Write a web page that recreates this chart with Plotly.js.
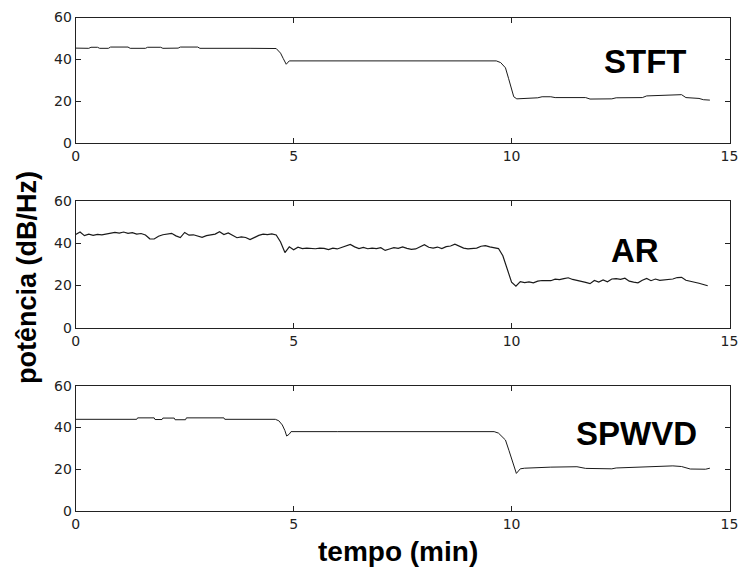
<!DOCTYPE html>
<html>
<head>
<meta charset="utf-8">
<script src="https://cdn.plot.ly/plotly-3.0.1.min.js"></script>
<style>html,body{margin:0;padding:0;background:#fff;}#chart{width:739px;height:572px;}</style>
</head>
<body>
<div id="chart"></div>
<script>
// ---- data ----
var stftTime = [0, 0.3, 0.35, 0.5, 0.55, 0.75, 0.8, 1.2, 1.25, 1.6, 1.65, 1.95, 2.0, 2.35, 2.4, 2.8, 2.85, 3.5, 4.0, 4.6, 4.7, 4.76, 4.83, 4.9, 5.5, 6.3, 7.0, 8.0, 9.0, 9.65, 9.75, 9.86, 9.93, 9.98, 10.05, 10.12, 10.3, 10.6, 10.7, 10.9, 11.0, 11.7, 11.8, 12.3, 12.4, 13.0, 13.1, 13.7, 13.9, 14.0, 14.3, 14.4, 14.55];
var stftPower = [45.4, 45.3, 45.8, 45.8, 45.3, 45.3, 45.9, 45.9, 45.3, 45.3, 45.8, 45.8, 45.3, 45.4, 45.9, 45.9, 45.3, 45.4, 45.3, 45.2, 43.0, 40.5, 37.7, 39.3, 39.3, 39.4, 39.3, 39.3, 39.3, 39.3, 38.5, 36.0, 31.0, 27.0, 22.2, 21.2, 21.4, 21.7, 22.2, 22.2, 21.8, 21.8, 21.1, 21.2, 21.7, 21.8, 22.6, 22.8, 23.2, 21.8, 21.4, 20.8, 20.6];

var arTime = [0.0, 0.1, 0.2, 0.3, 0.4, 0.5, 0.6, 0.7, 0.8, 0.9, 1.0, 1.1, 1.2, 1.3, 1.4, 1.5, 1.6, 1.7, 1.8, 1.9, 2.0, 2.1, 2.2, 2.3, 2.4, 2.5, 2.6, 2.7, 2.8, 2.9, 3.0, 3.1, 3.2, 3.3, 3.4, 3.5, 3.6, 3.7, 3.8, 3.9, 4.0, 4.1, 4.2, 4.3, 4.4, 4.5, 4.6, 4.7, 4.8, 4.9, 5.0, 5.1, 5.2, 5.3, 5.4, 5.5, 5.6, 5.7, 5.8, 5.9, 6.0, 6.1, 6.2, 6.3, 6.4, 6.5, 6.6, 6.7, 6.8, 6.9, 7.0, 7.1, 7.2, 7.3, 7.4, 7.5, 7.6, 7.7, 7.8, 7.9, 8.0, 8.1, 8.2, 8.3, 8.4, 8.5, 8.6, 8.7, 8.8, 8.9, 9.0, 9.1, 9.2, 9.3, 9.4, 9.5, 9.6, 9.7, 9.8, 9.9, 10.0, 10.1, 10.2, 10.3, 10.4, 10.5, 10.6, 10.7, 10.8, 10.9, 11.0, 11.1, 11.2, 11.3, 11.4, 11.5, 11.6, 11.7, 11.8, 11.9, 12.0, 12.1, 12.2, 12.3, 12.4, 12.5, 12.6, 12.7, 12.8, 12.9, 13.0, 13.1, 13.2, 13.3, 13.4, 13.5, 13.6, 13.7, 13.8, 13.9, 14.0, 14.1, 14.2, 14.3, 14.4, 14.5];
var arPower = [44.0, 45.2, 43.5, 44.2, 43.6, 44.1, 43.9, 44.3, 44.6, 45.0, 44.7, 45.2, 44.6, 44.9, 44.2, 44.5, 43.8, 42.0, 41.9, 43.2, 43.9, 44.2, 44.6, 43.4, 42.6, 45.0, 43.7, 43.9, 43.2, 42.7, 43.5, 44.0, 44.2, 45.3, 44.0, 44.8, 43.8, 42.5, 42.9, 42.6, 41.6, 42.8, 43.6, 44.2, 44.0, 44.3, 43.8, 40.5, 35.5, 38.2, 36.8, 38.0, 37.4, 37.6, 37.5, 37.3, 37.6, 37.5, 36.9, 37.6, 37.2, 37.8, 38.4, 39.3, 38.2, 37.4, 37.9, 37.3, 37.6, 37.4, 37.8, 36.5, 37.2, 37.8, 37.5, 38.2, 37.5, 37.0, 37.2, 38.2, 39.2, 38.0, 37.6, 38.1, 37.4, 38.3, 38.6, 39.5, 38.4, 37.6, 37.2, 37.3, 37.6, 38.5, 38.8, 38.2, 37.8, 37.4, 34.0, 28.0, 21.5, 19.6, 21.8, 21.3, 21.6, 21.2, 22.0, 22.3, 22.1, 22.2, 22.9, 22.7, 23.2, 23.6, 22.8, 22.4, 22.0, 21.4, 20.8, 22.3, 21.6, 22.6, 21.7, 23.0, 23.2, 22.8, 23.4, 22.0, 21.5, 21.2, 22.4, 23.3, 22.2, 23.0, 22.4, 22.6, 22.5, 23.0, 23.7, 23.8, 22.4, 22.0, 21.6, 21.0, 20.4, 19.8];

var spwvdTime = [0, 1.4, 1.42, 1.8, 1.82, 1.98, 2.0, 2.26, 2.28, 2.52, 2.54, 3.4, 3.42, 4.58, 4.66, 4.74, 4.8, 4.84, 4.9, 4.94, 6.0, 8.0, 9.6, 9.7, 9.8, 9.86, 9.94, 10.01, 10.07, 10.11, 10.2, 10.3, 10.9, 11.5, 11.7, 12.3, 12.4, 13.1, 13.7, 13.9, 14.1, 14.45, 14.55];
var spwvdPower = [43.9, 43.9, 44.6, 44.6, 43.8, 43.8, 44.5, 44.5, 43.7, 43.7, 44.6, 44.6, 43.9, 43.9, 43.2, 41.2, 38.5, 35.9, 36.8, 38.0, 38.0, 38.0, 38.0, 37.3, 35.5, 34.0, 29.0, 24.4, 20.0, 18.0, 20.2, 20.5, 21.0, 21.2, 20.4, 20.2, 20.6, 21.2, 21.6, 21.3, 20.1, 20.0, 20.5];

var panelLabels = ["STFT", "AR", "SPWVD"];
var xTicks = [0, 5, 10, 15];
var yTicks = [0, 20, 40, 60];
var xTitle = "tempo (min)";
var yTitle = "potência (dB/Hz)";

// ---- layout helpers ----
var W = 739, H = 572;
var xDom = [75.7 / W, 729.5 / W];
var yDoms = [
  [1 - 143.3 / H, 1 - 17.5 / H],
  [1 - 327.7 / H, 1 - 200.7 / H],
  [1 - 511 / H, 1 - 385.7 / H]
];
var series = [[stftTime, stftPower], [arTime, arPower], [spwvdTime, spwvdPower]];
var widths = [1, 1.2, 1];

var traces = series.map(function (s, i) {
  return {
    x: s[0], y: s[1], type: 'scatter', mode: 'lines',
    line: {color: '#1a1a1a', width: widths[i]},
    xaxis: i === 0 ? 'x' : 'x' + (i + 1),
    yaxis: i === 0 ? 'y' : 'y' + (i + 1),
    hoverinfo: 'skip', showlegend: false
  };
});

function axisBase() {
  return {
    showline: true, mirror: 'ticks', linecolor: '#222', linewidth: 1,
    ticks: 'inside', ticklen: 5, tickwidth: 1, tickcolor: '#222',
    showgrid: false, zeroline: false,
    tickfont: {family: 'DejaVu Sans, Arial, sans-serif', size: 14, color: '#222'}
  };
}

var layout = {
  width: W, height: H,
  margin: {l: 0, r: 0, t: 0, b: 0},
  paper_bgcolor: '#ffffff', plot_bgcolor: '#ffffff',
  showlegend: false,
  annotations: []
};

var labelPos = [[645, 62], [635, 250], [636, 433]];
for (var i = 0; i < 3; i++) {
  var xa = axisBase(), ya = axisBase();
  xa.domain = xDom; xa.range = [0, 15]; xa.tickvals = xTicks; xa.ticktext = xTicks.map(String);
  xa.anchor = i === 0 ? 'y' : 'y' + (i + 1);
  ya.domain = yDoms[i]; ya.range = [0, 60]; ya.tickvals = yTicks; ya.ticktext = yTicks.map(String);
  ya.anchor = i === 0 ? 'x' : 'x' + (i + 1);
  layout[i === 0 ? 'xaxis' : 'xaxis' + (i + 1)] = xa;
  layout[i === 0 ? 'yaxis' : 'yaxis' + (i + 1)] = ya;
  layout.annotations.push({
    text: '<b>' + panelLabels[i] + '</b>', xref: 'paper', yref: 'paper',
    x: labelPos[i][0] / W, y: 1 - labelPos[i][1] / H,
    xanchor: 'center', yanchor: 'middle', showarrow: false,
    font: {family: 'Liberation Sans, Arial, sans-serif', size: 33, color: '#000'}
  });
}

layout.annotations.push({
  text: '<b>' + xTitle + '</b>', xref: 'paper', yref: 'paper',
  x: 397.5 / W, y: 1 - 551 / H, xanchor: 'center', yanchor: 'middle', showarrow: false,
  font: {family: 'Liberation Sans, Arial, sans-serif', size: 28, color: '#000'}
});
layout.annotations.push({
  text: '<b>' + yTitle + '</b>', xref: 'paper', yref: 'paper',
  x: 27 / W, y: 1 - 278 / H, xanchor: 'center', yanchor: 'middle', showarrow: false,
  textangle: -90,
  font: {family: 'Liberation Sans, Arial, sans-serif', size: 27, color: '#000'}
});

Plotly.newPlot('chart', traces, layout, {staticPlot: true, displayModeBar: false});
</script>
</body>
</html>
